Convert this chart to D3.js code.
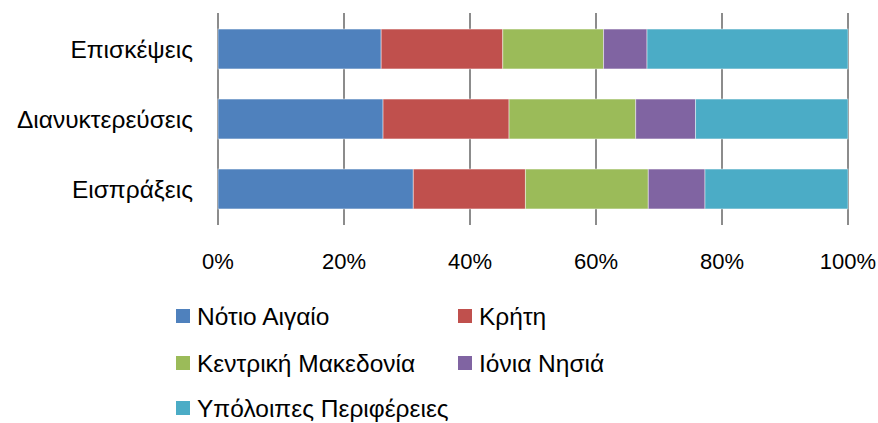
<!DOCTYPE html>
<html>
<head>
<meta charset="utf-8">
<script src="https://cdn.jsdelivr.net/npm/d3@7"></script>
<style>
  body { margin: 0; background: #fff; }
  svg text { font-family: "Liberation Sans", Arial, sans-serif; fill: #000; }
</style>
</head>
<body>
<div id="chart"></div>
<script>
var categories = ["Επισκέψεις", "Διανυκτερεύσεις", "Εισπράξεις"];
var regions = ["Νότιο Αιγαίο", "Κρήτη", "Κεντρική Μακεδονία", "Ιόνια Νησιά", "Υπόλοιπες Περιφέρειες"];
var colors = ["#4F81BD", "#C0504D", "#9BBB59", "#8064A2", "#4BACC6"];

// share of each region, per category (%)
var notioAigaio = [25.9, 26.2, 31.0];
var kriti = [19.3, 20.0, 17.8];
var kentrikiMakedonia = [16.0, 20.1, 19.5];
var ioniaNisia = [6.9, 9.5, 9.0];
var ypoloipes = [31.9, 24.2, 22.7];

var tickValues = [0, 0.2, 0.4, 0.6, 0.8, 1];

var width = 878,
    height = 423,
    plotLeft = 218, plotRight = 848,
    plotTop = 14, plotBottom = 224,
    labelSize = 24.5,
    tickSize = 22;

var seriesValues = [notioAigaio, kriti, kentrikiMakedonia, ioniaNisia, ypoloipes];

var rows = categories.map(function(c, i) {
    var row = { cat: c };
    var total = 0;
    regions.forEach(function(r, j) { total += seriesValues[j][i]; });
    regions.forEach(function(r, j) { row[r] = seriesValues[j][i] / total; });
    return row;
});

var stacked = d3.stack().keys(regions)(rows);

var x = d3.scaleLinear().domain([0, 1]).range([plotLeft, plotRight]);
var y = d3.scaleBand().domain(categories).range([plotTop, plotBottom])
    .paddingInner(0.43).paddingOuter(0.215);

var svg = d3.select("#chart").append("svg")
    .attr("width", width)
    .attr("height", height);

// gridlines
svg.append("g")
    .selectAll("line")
    .data(tickValues)
    .enter().append("line")
    .attr("x1", function(d) { return x(d); })
    .attr("x2", function(d) { return x(d); })
    .attr("y1", plotTop - 1)
    .attr("y2", plotBottom + 1)
    .attr("stroke", "#8c8c8c")
    .attr("stroke-width", 2);

// bars
svg.append("g")
    .selectAll("g")
    .data(stacked)
    .enter().append("g")
    .attr("fill", function(d, i) { return colors[i]; })
    .selectAll("rect")
    .data(function(d) { return d; })
    .enter().append("rect")
    .attr("x", function(d) { return x(d[0]); })
    .attr("width", function(d) { return x(d[1]) - x(d[0]); })
    .attr("y", function(d) { return y(d.data.cat); })
    .attr("height", y.bandwidth())
    .attr("stroke", "rgba(255,255,255,0.45)")
    .attr("stroke-width", 1);

// category labels
svg.append("g")
    .selectAll("text")
    .data(categories)
    .enter().append("text")
    .attr("x", 193)
    .attr("y", function(d) { return y(d) + y.bandwidth() / 2; })
    .attr("dy", "0.35em")
    .attr("text-anchor", "end")
    .style("font-size", labelSize + "px")
    .text(function(d) { return d; });

// x tick labels
svg.append("g")
    .selectAll("text")
    .data(tickValues)
    .enter().append("text")
    .attr("x", function(d) { return x(d); })
    .attr("y", 261)
    .attr("dy", "0.35em")
    .attr("text-anchor", "middle")
    .style("font-size", tickSize + "px")
    .text(d3.format(".0%"));

// legend
var legendPos = [[176, 316], [458, 316], [176, 363], [458, 363], [176, 408]];

var legend = svg.append("g")
    .selectAll("g")
    .data(regions)
    .enter().append("g")
    .attr("transform", function(d, i) {
        return "translate(" + legendPos[i][0] + "," + legendPos[i][1] + ")";
    });

legend.append("rect")
    .attr("x", 0)
    .attr("y", -7)
    .attr("width", 14)
    .attr("height", 14)
    .attr("fill", function(d, i) { return colors[i]; });

legend.append("text")
    .attr("x", 21)
    .attr("y", 0)
    .attr("dy", "0.35em")
    .style("font-size", labelSize + "px")
    .text(function(d) { return d; });
</script>
</body>
</html>
